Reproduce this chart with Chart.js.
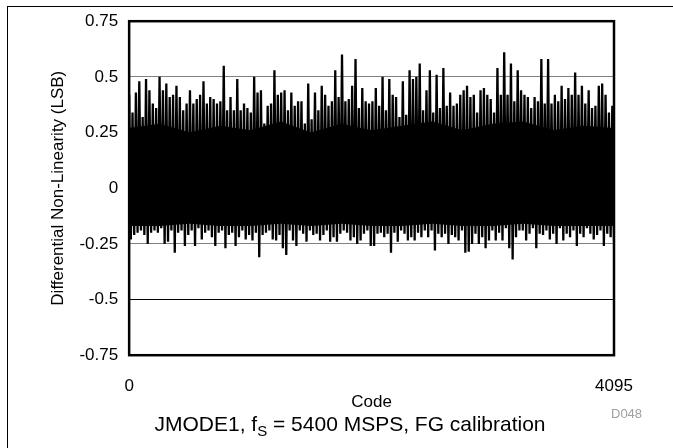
<!DOCTYPE html>
<html>
<head>
<meta charset="utf-8">
<script src="https://cdn.jsdelivr.net/npm/chart.js@4/dist/chart.umd.min.js"></script>
<style>
  html, body { margin: 0; padding: 0; background: #fff; }
  #wrap { position: relative; width: 673px; height: 448px; overflow: hidden; }
  #frame { position: absolute; left: 7px; top: 6px; width: 680px; height: 460px;
           border-left: 1px solid #000; border-top: 1px solid #000; }
  #myChart { position: absolute; left: 0; top: 0; }
  #tag { position: absolute; left: 611px; top: 406px; line-height: 13px;
         font: 13px "Liberation Sans", Arial, sans-serif; color: #a0a0a0; }
  #caption { position: absolute; left: 0; width: 700px; top: 412px; line-height: 21px; text-align: center;
             font: 21px "Liberation Sans", Arial, sans-serif; color: #000; }
  #caption sub { font-size: 15px; vertical-align: -5px; line-height: 0; }
</style>
</head>
<body>
<div id="wrap">
  <div id="frame"></div>
  <canvas id="myChart" width="673" height="448"></canvas>
  <div id="tag">D048</div>
  <div id="caption">JMODE1, f<sub>S</sub> = 5400 MSPS, FG calibration</div>
</div>
<script>
    // DNL peaks, one quarter of the code range per array
    var upperQ1 = [0.42, 0.34, 0.43, 0.48, 0.32, 0.49, 0.44, 0.38, 0.36, 0.50, 0.44, 0.47, 0.41, 0.42, 0.46, 0.41, 0.35, 0.38,
                   0.44, 0.38, 0.40, 0.42, 0.48, 0.38, 0.41, 0.40, 0.38, 0.39, 0.55, 0.35, 0.41, 0.35, 0.49, 0.35, 0.38, 0.36]
    var upperQ2 = [0.34, 0.50, 0.43, 0.44, 0.29, 0.37, 0.38, 0.53, 0.42, 0.43, 0.44, 0.35, 0.43, 0.37, 0.39, 0.39, 0.29, 0.47,
                   0.31, 0.43, 0.35, 0.46, 0.42, 0.37, 0.39, 0.53, 0.41, 0.60, 0.39, 0.40, 0.46, 0.58, 0.36, 0.45, 0.39, 0.38]
    var upperQ3 = [0.39, 0.45, 0.37, 0.50, 0.35, 0.49, 0.42, 0.41, 0.32, 0.48, 0.33, 0.53, 0.49, 0.50, 0.56, 0.35, 0.44, 0.53,
                   0.34, 0.51, 0.36, 0.54, 0.37, 0.43, 0.37, 0.38, 0.42, 0.44, 0.46, 0.41, 0.42, 0.34, 0.44, 0.45, 0.42, 0.40]
    var upperQ4 = [0.34, 0.54, 0.42, 0.61, 0.42, 0.56, 0.39, 0.53, 0.44, 0.42, 0.41, 0.36, 0.41, 0.39, 0.58, 0.38, 0.58, 0.38,
                   0.42, 0.39, 0.46, 0.40, 0.45, 0.42, 0.52, 0.42, 0.46, 0.38, 0.44, 0.36, 0.37, 0.46, 0.47, 0.42, 0.34, 0.37]

    var lowerQ1 = [-0.23, -0.21, -0.20, -0.19, -0.21, -0.25, -0.20, -0.19, -0.20, -0.18, -0.25, -0.24, -0.19, -0.29, -0.20, -0.19, -0.26, -0.21,
                   -0.19, -0.26, -0.18, -0.23, -0.20, -0.19, -0.22, -0.26, -0.20, -0.19, -0.27, -0.21, -0.20, -0.26, -0.22, -0.19, -0.23, -0.21]
    var lowerQ2 = [-0.235, -0.20, -0.31, -0.21, -0.20, -0.19, -0.23, -0.235, -0.21, -0.27, -0.30, -0.19, -0.235, -0.26, -0.19, -0.205, -0.24, -0.19,
                   -0.21, -0.205, -0.235, -0.21, -0.19, -0.24, -0.22, -0.24, -0.205, -0.19, -0.20, -0.235, -0.22, -0.25, -0.235, -0.205, -0.19, -0.26]
    var lowerQ3 = [-0.26, -0.205, -0.20, -0.22, -0.205, -0.29, -0.20, -0.24, -0.19, -0.205, -0.235, -0.22, -0.235, -0.20, -0.22, -0.19, -0.22, -0.19,
                   -0.28, -0.205, -0.22, -0.205, -0.25, -0.21, -0.22, -0.235, -0.19, -0.29, -0.285, -0.25, -0.205, -0.25, -0.22, -0.27, -0.235, -0.19]
    var lowerQ4 = [-0.235, -0.20, -0.235, -0.18, -0.27, -0.32, -0.22, -0.19, -0.19, -0.235, -0.205, -0.18, -0.27, -0.205, -0.21, -0.19, -0.23, -0.205,
                   -0.25, -0.18, -0.235, -0.205, -0.22, -0.19, -0.26, -0.205, -0.22, -0.18, -0.205, -0.23, -0.21, -0.19, -0.26, -0.205, -0.22, -0.24]

    // solid band where the codes overlap completely
    var coreCodes = [0, 256, 512, 768, 1024, 1280, 1536, 1792, 2048, 2304, 2560, 2816, 3072, 3328, 3584, 3840, 4095]
    var coreTop = [0.27, 0.29, 0.25, 0.28, 0.26, 0.30, 0.25, 0.29, 0.26, 0.28, 0.30, 0.26, 0.29, 0.30, 0.26, 0.28, 0.27]
    var coreBottom = [-0.17, -0.17, -0.16, -0.17, -0.17, -0.16, -0.17, -0.16, -0.17, -0.17, -0.16, -0.17, -0.17, -0.16, -0.17, -0.17, -0.17]

    var yTicks = [-0.75, -0.5, -0.25, 0, 0.25, 0.5, 0.75]
    var xTicks = [0, 4095]
    var maxCode = 4095

    var upper = upperQ1.concat(upperQ2, upperQ3, upperQ4)
    var lower = lowerQ1.concat(lowerQ2, lowerQ3, lowerQ4)

    // high / low alternate along the code axis
    var dnlPoints = []
    var nPts = upper.length * 2
    for (var i = 0; i < upper.length; i++) {
        dnlPoints.push({ x: (2 * i) * maxCode / (nPts - 1), y: upper[i] })
        dnlPoints.push({ x: (2 * i + 1) * maxCode / (nPts - 1), y: lower[i] })
    }

    var coreTopPts = coreCodes.map(function(c, i) { return { x: c, y: coreTop[i] } })
    var coreBottomPts = coreCodes.map(function(c, i) { return { x: c, y: coreBottom[i] } })

    var plotFrame = {
        id: 'plotFrame',
        afterDraw: function(chart) {
            var a = chart.chartArea
            var ctx = chart.ctx
            ctx.save()
            ctx.strokeStyle = '#000'
            ctx.lineWidth = 2.5
            ctx.strokeRect(a.left, a.top, a.right - a.left, a.bottom - a.top)
            ctx.restore()
        }
    }

    var font = "'Liberation Sans', Arial, sans-serif"
    var ctx = document.getElementById('myChart').getContext('2d');
    var myChart = new Chart(ctx, {
        type: 'line',
        data: {
            datasets: [{
                label: 'DNL',
                data: dnlPoints,
                borderColor: '#000',
                borderWidth: 2.3,
                pointRadius: 0,
                tension: 0,
                fill: false,
                order: 0
            }, {
                label: 'core top',
                data: coreTopPts,
                borderWidth: 0,
                borderColor: 'rgba(0,0,0,0)',
                backgroundColor: '#000',
                pointRadius: 0,
                fill: '+1',
                order: 1
            }, {
                label: 'core bottom',
                data: coreBottomPts,
                borderWidth: 0,
                borderColor: 'rgba(0,0,0,0)',
                pointRadius: 0,
                fill: false,
                order: 2
            }]
        },
        plugins: [plotFrame],
        options: {
            responsive: false,
            animation: false,
            layout: {
                padding: { left: 48, right: 59, top: 21, bottom: 35 }
            },
            plugins: {
                legend: { display: false },
                tooltip: { enabled: false }
            },
            scales: {
                x: {
                    type: 'linear',
                    min: 0,
                    max: maxCode,
                    afterBuildTicks: function(axis) {
                        axis.ticks = xTicks.map(function(v) { return { value: v } })
                    },
                    grid: { display: false, drawTicks: false },
                    border: { display: false },
                    ticks: {
                        color: '#000',
                        padding: 21,
                        maxRotation: 0,
                        autoSkip: false,
                        font: { family: font, size: 17 },
                        callback: function(v) { return String(v) }
                    },
                    title: {
                        display: true,
                        text: 'Code',
                        color: '#000',
                        padding: { top: -25, bottom: 0 },
                        font: { family: font, size: 17 }
                    }
                },
                y: {
                    min: -0.75,
                    max: 0.75,
                    afterBuildTicks: function(axis) {
                        axis.ticks = yTicks.map(function(v) { return { value: v } })
                    },
                    grid: {
                        drawTicks: false,
                        lineWidth: 1,
                        color: function(c) {
                            var v = c.tick ? c.tick.value : 0
                            if (v === 0.75 || v === -0.75 || v === 0) return 'rgba(0,0,0,0)'
                            return v === -0.5 ? '#000' : '#808080'
                        }
                    },
                    border: { display: false },
                    ticks: {
                        color: '#000',
                        padding: 11,
                        autoSkip: false,
                        font: { family: font, size: 17 },
                        callback: function(v) { return String(Math.round(v * 100) / 100) }
                    },
                    title: {
                        display: true,
                        text: 'Differential Non-Linearity (LSB)',
                        color: '#000',
                        padding: { top: 0, bottom: 0 },
                        font: { family: font, size: 17 }
                    }
                }
            }
        }
    });
</script>
</body>
</html>
